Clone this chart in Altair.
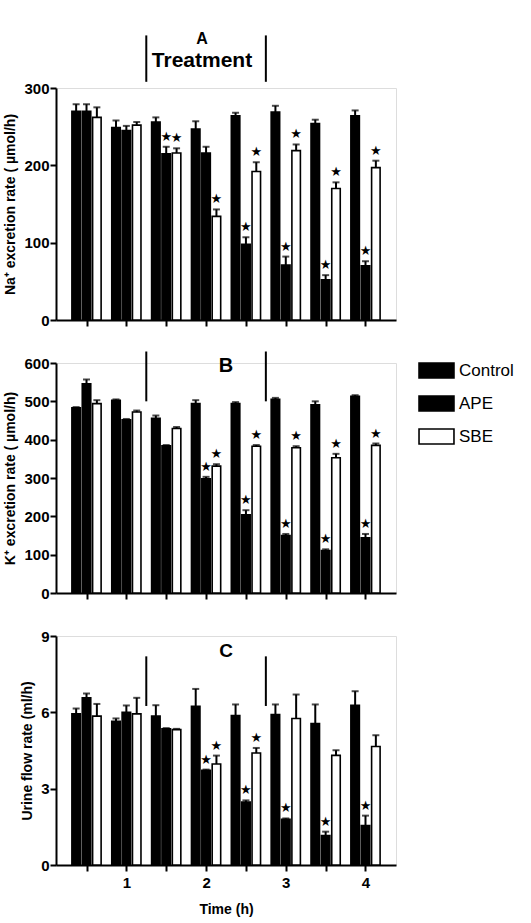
import altair as alt
import pandas as pd

FONT = "Liberation Sans"

times = [0.5, 1.0, 1.5, 2.0, 2.5, 3.0, 3.5, 4.0]
series = ["Control", "APE", "SBE"]
treat_times = [1.25, 2.75]

# Panel A: Na+ excretion rate (umol/h)
na_control = [270, 249, 256, 247, 264, 269, 254, 264]
na_control_err = [9, 9, 6, 10, 4, 8, 5, 7]
na_ape = [270, 245, 215, 216, 98, 71, 52, 70]
na_ape_err = [9, 6, 9, 8, 9, 11, 6, 6]
na_sbe = [262, 252, 216, 134, 192, 219, 170, 197]
na_sbe_err = [13, 4, 6, 9, 12, 8, 8, 9]
na_ape_star = [0, 0, 1, 0, 1, 1, 1, 1]
na_sbe_star = [0, 0, 1, 1, 1, 1, 1, 1]

# Panel B: K+ excretion rate (umol/h)
k_control = [483, 503, 456, 494, 494, 505, 491, 513]
k_control_err = [2, 2, 7, 9, 4, 4, 9, 3]
k_ape = [546, 452, 384, 298, 204, 150, 111, 144]
k_ape_err = [11, 2, 2, 5, 12, 4, 3, 10]
k_sbe = [494, 472, 429, 331, 383, 379, 353, 385]
k_sbe_err = [9, 4, 4, 5, 3, 4, 10, 5]
k_ape_star = [0, 0, 0, 1, 1, 1, 1, 1]
k_sbe_star = [0, 0, 0, 1, 1, 1, 1, 1]

# Panel C: urine flow rate (ml/h)
u_control = [5.94, 5.65, 5.85, 6.24, 5.87, 5.91, 5.56, 6.28]
u_control_err = [0.21, 0.11, 0.43, 0.68, 0.44, 0.40, 0.75, 0.55]
u_ape = [6.57, 6.00, 5.35, 3.72, 2.47, 1.80, 1.16, 1.55]
u_ape_err = [0.17, 0.27, 0.03, 0.03, 0.07, 0.03, 0.15, 0.39]
u_sbe = [5.85, 5.94, 5.32, 3.97, 4.40, 5.76, 4.31, 4.66]
u_sbe_err = [0.48, 0.63, 0.03, 0.33, 0.20, 0.94, 0.20, 0.44]
u_ape_star = [0, 0, 0, 1, 1, 1, 1, 1]
u_sbe_star = [0, 0, 0, 1, 1, 0, 0, 0]

legend = alt.Legend(
    title=None, orient="none", legendX=372, legendY=274,
    symbolType="M-2.33,-1H2.33V1H-2.33Z", symbolSize=225,
    symbolStrokeColor="black", symbolStrokeWidth=1.6,
    labelFont=FONT, labelFontSize=17, labelColor="black",
    labelOffset=14, rowPadding=10,
)


def make_panel(vals, ymax, yticks, ytitle, tlo, thi, height, title, last):
    ctrl, ctrl_e, ape, ape_e, sbe, sbe_e, ape_st, sbe_st = vals
    rows = []
    for i, t in enumerate(times):
        for s, v, e, st in (("Control", ctrl[i], ctrl_e[i], 0),
                            ("APE", ape[i], ape_e[i], ape_st[i]),
                            ("SBE", sbe[i], sbe_e[i], sbe_st[i])):
            rows.append({"time": t, "series": s, "value": v,
                         "hi": round(v + e, 3), "star": "★" if st else ""})
    df = pd.DataFrame(rows)
    tdf = pd.DataFrame({"time": treat_times, "lo": [tlo] * 2, "top": [thi] * 2})

    xscale = alt.Scale(domain=[0.18, 4.32], nice=False, zero=False)
    xaxis = alt.Axis(
        values=times, grid=False, domainWidth=2, domainColor="black",
        tickWidth=2, tickSize=6, tickColor="black", labels=last,
        labelExpr="datum.value % 1 == 0 ? format(datum.value, 'd') : ''",
        labelFont=FONT, labelFontSize=15, labelFontWeight="bold",
        labelColor="black", labelPadding=4,
        titleFont=FONT, titleFontSize=14, titleFontWeight="bold",
        titleColor="black", titlePadding=12,
    )
    xtitle = "Time (h)" if last else None
    yscale = alt.Scale(domain=[0, ymax], nice=False, zero=True)
    yaxis = alt.Axis(
        values=yticks, grid=False, domainWidth=2, domainColor="black",
        tickWidth=2, tickSize=6, tickColor="black",
        labelFont=FONT, labelFontSize=15, labelFontWeight="bold",
        labelColor="black", labelPadding=1,
        titleFont=FONT, titleFontSize=14, titleFontWeight="bold",
        titleColor="black", titlePadding=6,
    )

    base = alt.Chart(df).transform_calculate(
        xpos="datum.time + (datum.series == 'Control' ? -0.13 : (datum.series == 'SBE' ? 0.13 : 0))"
    )
    X = alt.X("xpos:Q", scale=xscale, axis=xaxis, title=xtitle)

    bars = base.mark_bar(size=8.5, stroke="black", strokeWidth=1.6).encode(
        x=X,
        y=alt.Y("value:Q", scale=yscale, axis=yaxis, title=ytitle),
        fill=alt.Fill("series:N", scale=alt.Scale(domain=series, range=["black", "black", "white"]),
                      legend=legend, sort=series),
    )
    err = base.mark_rule(color="black", strokeWidth=2).encode(
        x=X, y=alt.Y("value:Q", scale=yscale, axis=yaxis, title=ytitle), y2="hi:Q"
    )
    caps = base.mark_tick(color="black", orient="horizontal", size=7, thickness=2).encode(
        x=X, y=alt.Y("hi:Q", scale=yscale, axis=yaxis, title=ytitle)
    )
    stars = base.transform_filter("datum.star != ''").mark_text(
        font="DejaVu Sans", fontSize=13, baseline="middle", dy=-10, color="black"
    ).encode(x=X, y=alt.Y("hi:Q", scale=yscale, axis=yaxis, title=ytitle), text="star:N")
    treat = alt.Chart(tdf).mark_rule(color="black", strokeWidth=2).encode(
        x=alt.X("time:Q", scale=xscale, axis=xaxis, title=xtitle),
        y=alt.Y("lo:Q", scale=yscale, axis=yaxis, title=ytitle),
        y2="top:Q",
    )
    return alt.layer(bars, err, caps, stars, treat).properties(width=340, height=height, title=title)


title_a = alt.TitleParams("A", subtitle="Treatment", anchor="middle", dx=-24, offset=-37,
                          font=FONT, fontSize=16, fontWeight="bold", color="black",
                          subtitleFont=FONT, subtitleFontSize=21, subtitleFontWeight="bold",
                          subtitleColor="black", subtitlePadding=3)
title_b = alt.TitleParams("B", anchor="middle", offset=-25, font=FONT, fontSize=20,
                          fontWeight="bold", color="black")
title_c = alt.TitleParams("C", anchor="middle", offset=-32, font=FONT, fontSize=19,
                          fontWeight="bold", color="black")

pa = make_panel((na_control, na_control_err, na_ape, na_ape_err, na_sbe, na_sbe_err, na_ape_star, na_sbe_star),
                300, [0, 100, 200, 300], "Na⁺ excretion rate ( µmol/h)", 308, 368, 232, title_a, False)
pb = make_panel((k_control, k_control_err, k_ape, k_ape_err, k_sbe, k_sbe_err, k_ape_star, k_sbe_star),
                600, [0, 100, 200, 300, 400, 500, 600], "K⁺ excretion rate ( µmol/h)", 500, 630, 230, title_b, False)
pc = make_panel((u_control, u_control_err, u_ape, u_ape_err, u_sbe, u_sbe_err, u_ape_star, u_sbe_star),
                9, [0, 3, 6, 9], "Urine flow rate (ml/h)", 6.25, 8.2, 229, title_c, True)

chart = alt.vconcat(pa, pb, pc, spacing=43, bounds="flush").resolve_scale(
    y="independent"
).properties(
    padding={"left": 3, "top": 30, "right": 5, "bottom": 3}
).configure_view(stroke=None).configure(background="white")

chart.save("out.html", embed_options={"renderer": "svg", "actions": False})
